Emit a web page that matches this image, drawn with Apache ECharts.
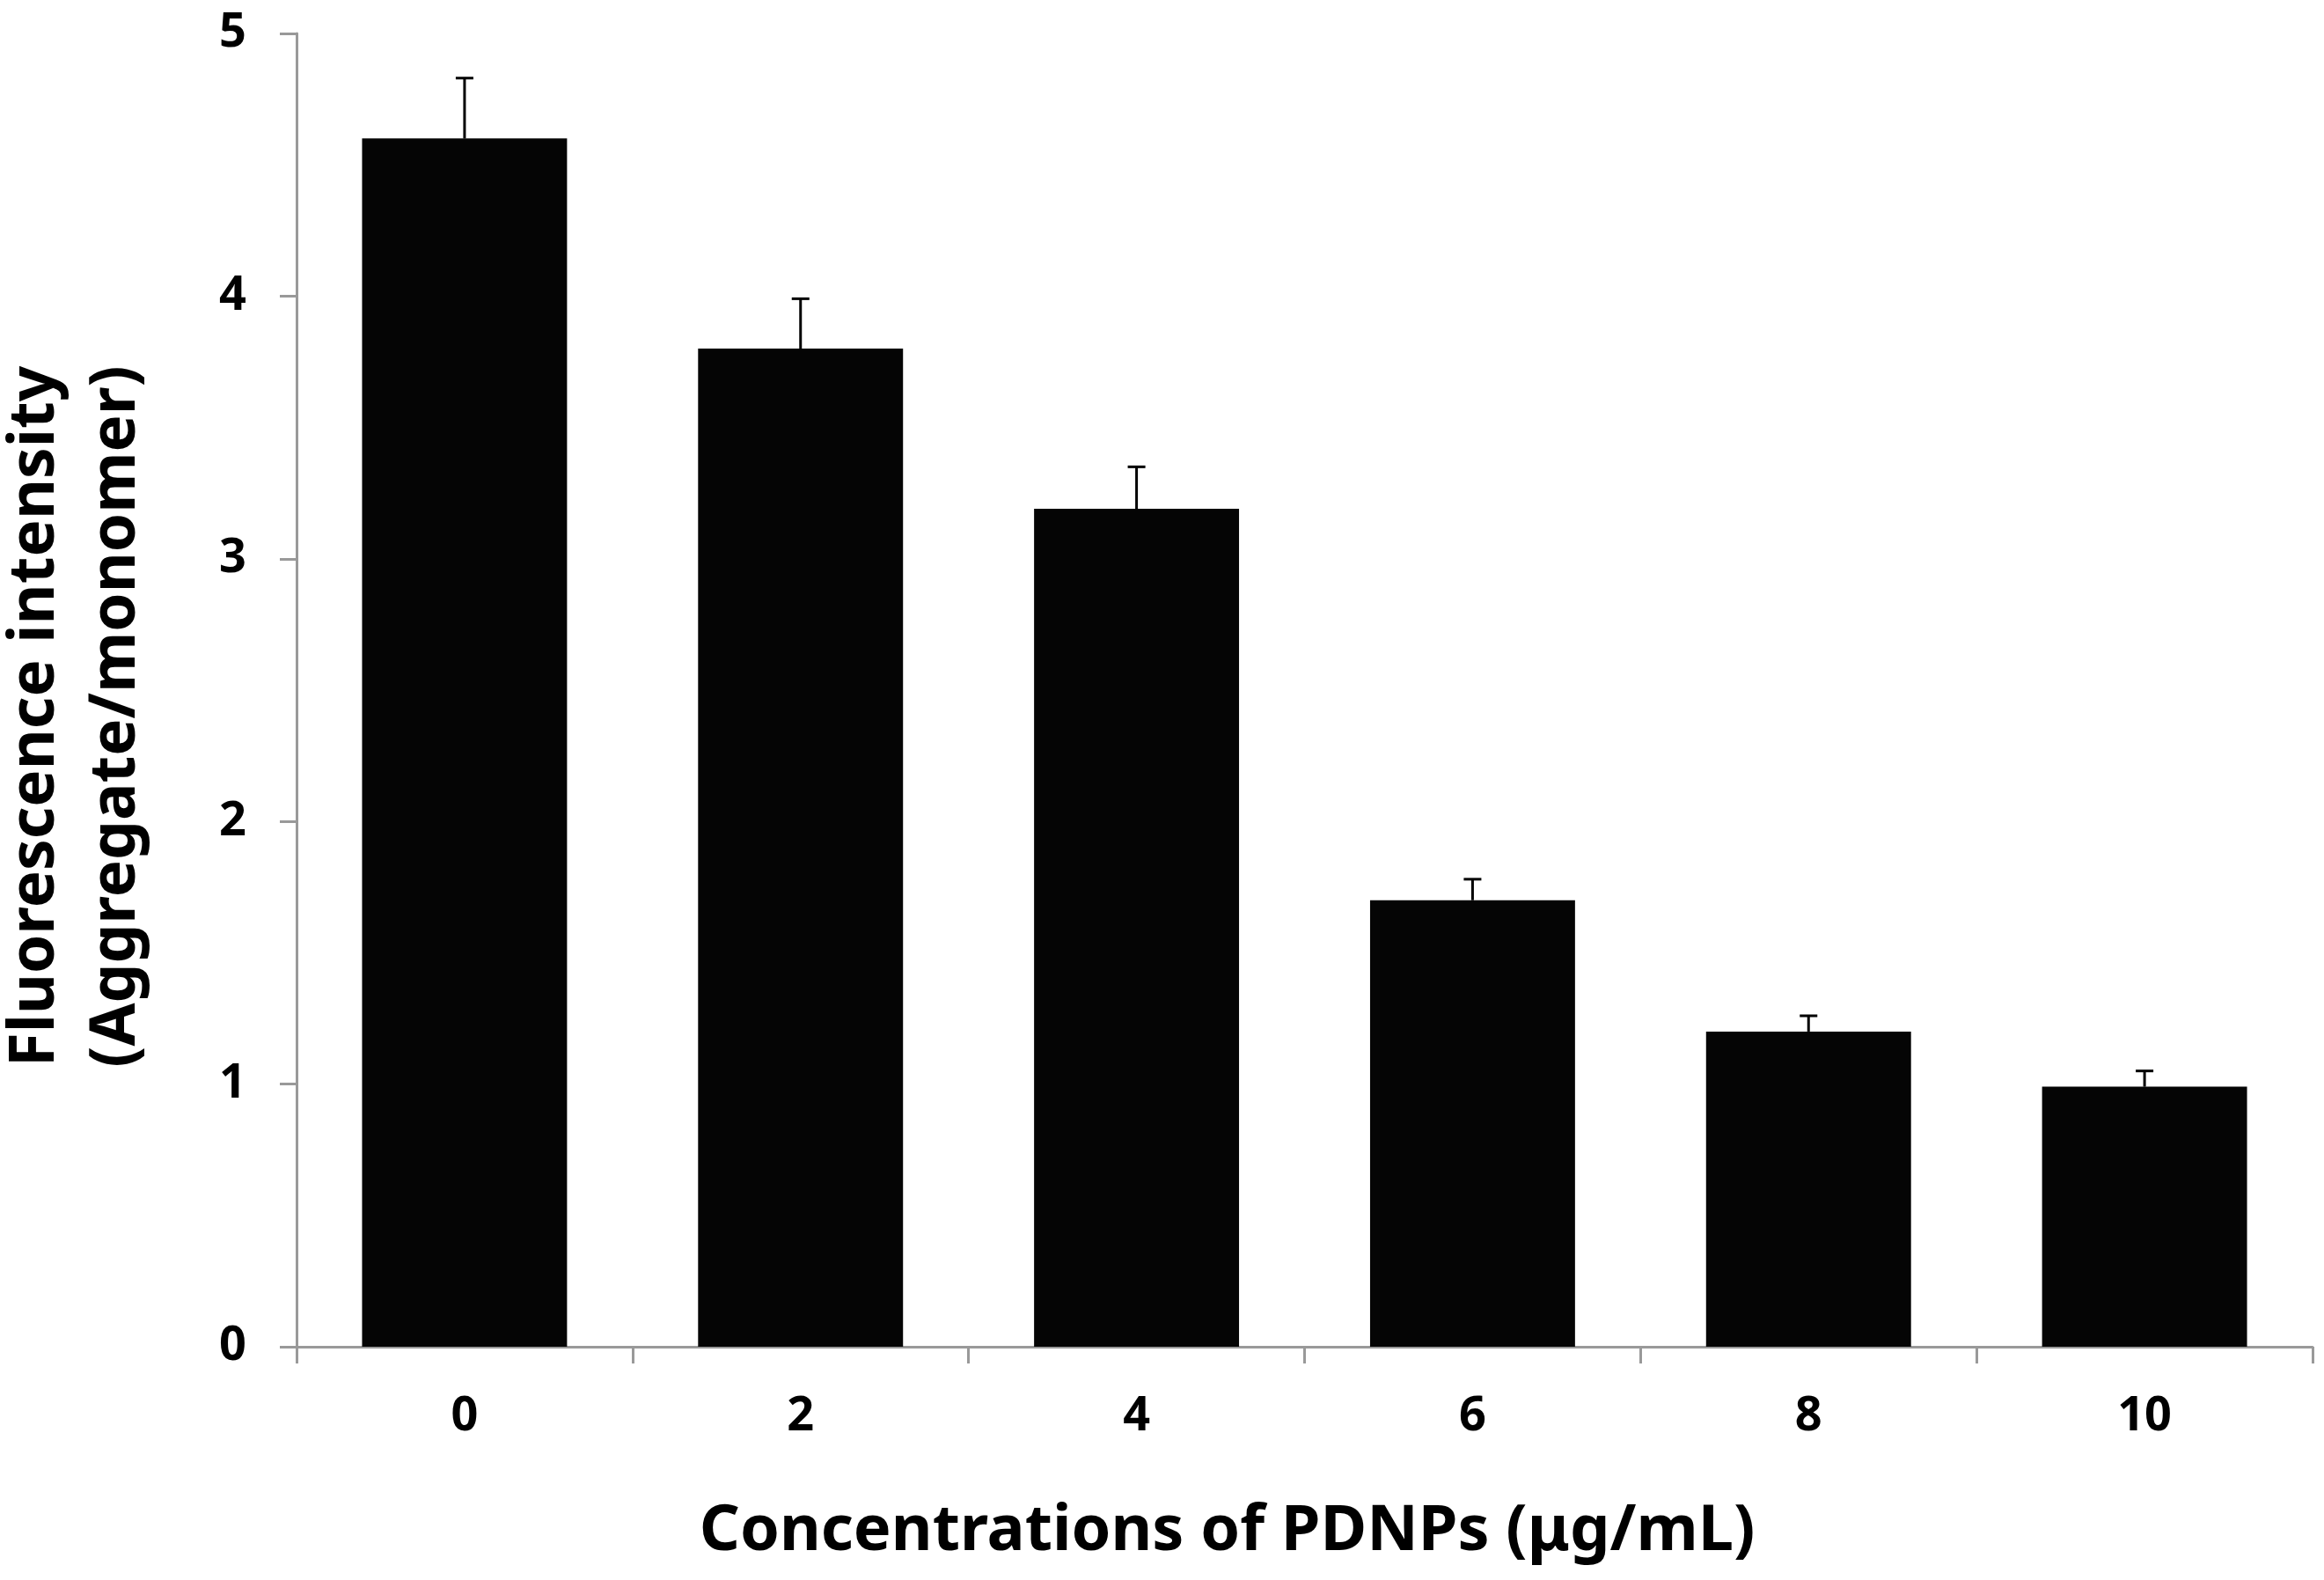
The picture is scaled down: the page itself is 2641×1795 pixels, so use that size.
<!DOCTYPE html>
<html>
<head>
<meta charset="utf-8">
<script src="https://cdn.jsdelivr.net/npm/echarts@6/dist/echarts.min.js"></script>
<style>
html, body { margin: 0; padding: 0; background: #fff; }
#chart { width: 2641px; height: 1795px; }
</style>
</head>
<body>
<div id="chart"></div>
<script>
// concentrations of PDNPs (ug/mL)
var categories = ['0', '2', '4', '6', '8', '10'];
// aggregate/monomer ratio
var means = [4.60, 3.80, 3.19, 1.70, 1.20, 0.99];
// upper error (SD)
var errors = [0.23, 0.19, 0.16, 0.08, 0.06, 0.06];
var yTicks = [0, 1, 2, 3, 4, 5];

var errData = [];
for (var i = 0; i < categories.length; i++) {
    errData.push([i, means[i], means[i] + errors[i]]);
}

var myChart = echarts.init(document.getElementById('chart'));
var fontFam = '"Noto Sans", "Open Sans", sans-serif';

var option = {
    backgroundColor: '#ffffff',
    animation: false,
    grid: {
        left: 337,
        right: 13,
        top: 38,
        bottom: 265,
        containLabel: false,
        outerBoundsMode: 'none'
    },
    xAxis: {
        type: 'category',
        data: categories,
        name: 'Concentrations of PDNPs (μg/mL)',
        nameLocation: 'middle',
        nameGap: 174,
        nameTextStyle: {
            color: '#000',
            fontFamily: fontFam,
            fontWeight: 'bold',
            fontSize: 72,
            padding: [0, 176, 0, 0]
        },
        axisLine: {
            lineStyle: { color: '#999', width: 3 }
        },
        axisTick: {
            show: true,
            length: 19,
            lineStyle: { color: '#999', width: 3 }
        },
        axisLabel: {
            color: '#000',
            fontFamily: fontFam,
            fontWeight: 'bold',
            fontSize: 54,
            margin: 53
        }
    },
    yAxis: {
        type: 'value',
        min: yTicks[0],
        max: yTicks[yTicks.length - 1],
        interval: 1,
        name: 'Fluorescence intensity\n(Aggregate/monomer)',
        nameLocation: 'middle',
        nameGap: 158,
        nameTextStyle: {
            color: '#000',
            fontFamily: fontFam,
            fontWeight: 'bold',
            fontSize: 71,
            lineHeight: 92,
            padding: [0, 60, 0, 0]
        },
        splitLine: { show: false },
        axisLine: {
            show: true,
            lineStyle: { color: '#999', width: 3 }
        },
        axisTick: {
            show: true,
            length: 19,
            lineStyle: { color: '#999', width: 3 }
        },
        axisLabel: {
            color: '#000',
            fontFamily: fontFam,
            fontWeight: 'bold',
            fontSize: 54,
            margin: 57
        }
    },
    series: [{
        type: 'bar',
        data: means,
        barWidth: '61%',
        itemStyle: { color: '#050505' },
        z: 2
    }, {
        type: 'custom',
        data: errData,
        z: 3,
        renderItem: function (params, api) {
            var base = api.coord([api.value(0), api.value(1)]);
            var top = api.coord([api.value(0), api.value(2)]);
            var capW = 10;
            var st = { stroke: '#000', lineWidth: 3 };
            return {
                type: 'group',
                children: [{
                    type: 'line',
                    shape: { x1: base[0], y1: base[1], x2: top[0], y2: top[1] },
                    style: st
                }, {
                    type: 'line',
                    shape: { x1: top[0] - capW, y1: top[1], x2: top[0] + capW, y2: top[1] },
                    style: st
                }]
            };
        }
    }]
};

myChart.setOption(option);
window.addEventListener('resize', function () {
    myChart.resize();
});
</script>
</body>
</html>
